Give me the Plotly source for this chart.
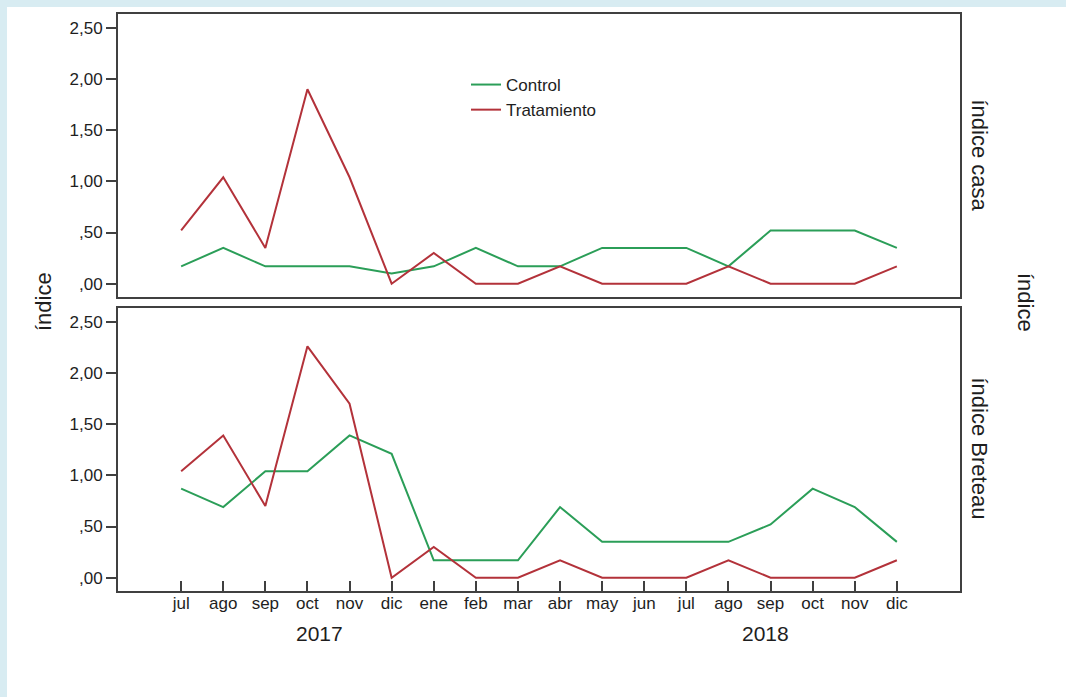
import plotly.graph_objects as go
from plotly.subplots import make_subplots

# Months from July 2017 to December 2018
months = ["jul", "ago", "sep", "oct", "nov", "dic",
          "ene", "feb", "mar", "abr", "may", "jun",
          "jul", "ago", "sep", "oct", "nov", "dic"]
years = ["2017", "2018"]
year_pos = [3.29, 13.87]

# Índice casa
casa_control = [0.17, 0.35, 0.17, 0.17, 0.17, 0.10, 0.17, 0.35, 0.17,
                0.17, 0.35, 0.35, 0.35, 0.17, 0.52, 0.52, 0.52, 0.35]
casa_tratamiento = [0.52, 1.04, 0.35, 1.90, 1.04, 0.00, 0.30, 0.00, 0.00,
                    0.17, 0.00, 0.00, 0.00, 0.17, 0.00, 0.00, 0.00, 0.17]

# Índice Breteau
breteau_control = [0.87, 0.69, 1.04, 1.04, 1.39, 1.21, 0.17, 0.17, 0.17,
                   0.69, 0.35, 0.35, 0.35, 0.35, 0.52, 0.87, 0.69, 0.35]
breteau_tratamiento = [1.04, 1.39, 0.70, 2.26, 1.70, 0.00, 0.30, 0.00, 0.00,
                       0.17, 0.00, 0.00, 0.00, 0.17, 0.00, 0.00, 0.00, 0.17]

y_ticks = [0, 0.5, 1.0, 1.5, 2.0, 2.5]
y_ticktext = [",00", ",50", "1,00", "1,50", "2,00", "2,50"]

GREEN = "#2b9e58"
RED = "#b3323a"
FRAME = "#404040"
TEXT = "#1e1e1e"
FONT = "Liberation Sans, Arial, sans-serif"

x = list(range(len(months)))

fig = make_subplots(rows=2, cols=1, shared_xaxes=False, vertical_spacing=0.019)

fig.add_trace(go.Scatter(x=x, y=casa_control, mode="lines", name="Control",
                         line=dict(color=GREEN, width=2), legendgroup="c"), row=1, col=1)
fig.add_trace(go.Scatter(x=x, y=casa_tratamiento, mode="lines", name="Tratamiento",
                         line=dict(color=RED, width=2), legendgroup="t"), row=1, col=1)
fig.add_trace(go.Scatter(x=x, y=breteau_control, mode="lines", name="Control",
                         line=dict(color=GREEN, width=2), legendgroup="c",
                         showlegend=False), row=2, col=1)
fig.add_trace(go.Scatter(x=x, y=breteau_tratamiento, mode="lines", name="Tratamiento",
                         line=dict(color=RED, width=2), legendgroup="t",
                         showlegend=False), row=2, col=1)

common_x = dict(range=[-1.5, 18.5], showgrid=False, zeroline=False,
                showline=True, linecolor=FRAME, linewidth=2, mirror=True)
fig.update_xaxes(**common_x)
fig.update_xaxes(showticklabels=False, ticks="", row=1, col=1)
fig.update_xaxes(tickmode="array", tickvals=x, ticktext=months,
                 ticks="inside", ticklen=10, tickwidth=2, tickcolor=FRAME,
                 ticklabelstandoff=-4,
                 tickfont=dict(size=17, color=TEXT), row=2, col=1)

fig.update_yaxes(range=[-0.13, 2.635], showgrid=False, zeroline=False,
                 showline=True, linecolor=FRAME, linewidth=2, mirror=True,
                 tickmode="array", tickvals=y_ticks, ticktext=y_ticktext,
                 ticks="outside", ticklen=10, tickwidth=2, tickcolor=FRAME,
                 tickfont=dict(size=17, color=TEXT))
fig.update_yaxes(domain=[0.5095, 1.0], row=1, col=1)
fig.update_yaxes(domain=[0.0, 0.4905], row=2, col=1)

# White page inside the light blue border
fig.add_shape(type="rect", xref="paper", yref="paper", layer="below",
              x0=(7 - 118) / 842, x1=1.2, y0=-0.25, y1=(591 - 7) / 577,
              fillcolor="white", line=dict(width=0))

for label, pos in zip(years, year_pos):
    fig.add_annotation(x=pos, xref="x2", y=(591 - 633) / 577, yref="paper",
                       text=label, showarrow=False,
                       font=dict(size=21, color=TEXT), xanchor="center", yanchor="middle")

titles = [
    ("índice", 43, 302, -90),
    ("índice casa", 979, 155.5, 90),
    ("índice Breteau", 979, 448.5, 90),
    ("índice", 1026, 302, 90),
]
for text, px, py, angle in titles:
    fig.add_annotation(x=(px - 118) / 842, y=(591 - py) / 577, xref="paper", yref="paper",
                       text=text, textangle=angle, showarrow=False,
                       xanchor="center", yanchor="middle",
                       font=dict(size=22, color=TEXT))

fig.update_layout(
    width=1066, height=697,
    margin=dict(l=118, r=106, t=14, b=106),
    paper_bgcolor="#d8ecf2", plot_bgcolor="white",
    font=dict(family=FONT, color=TEXT),
    legend=dict(x=(466 - 118) / 842, y=(591 - 67) / 577, xanchor="left", yanchor="top",
                bgcolor="rgba(0,0,0,0)", font=dict(size=17, color=TEXT),
                tracegroupgap=0, itemwidth=30),
)

fig.write_html("out.html")
